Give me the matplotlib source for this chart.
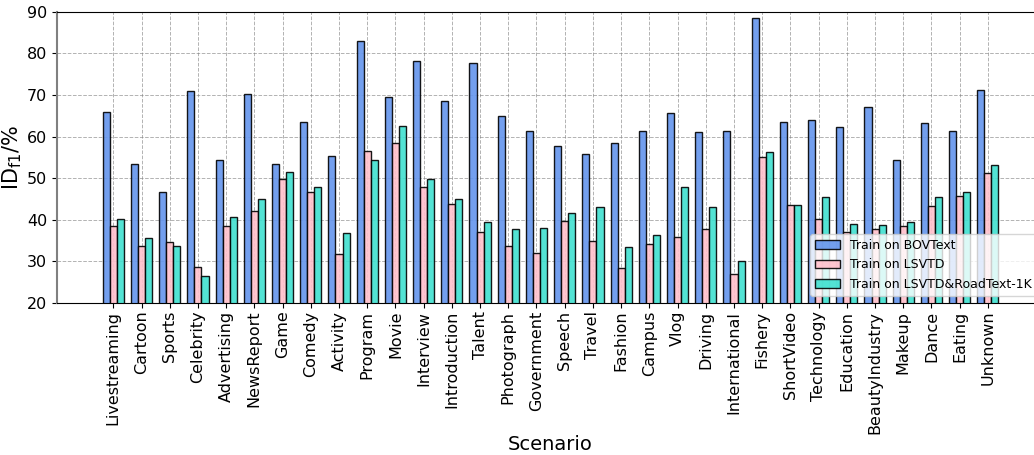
import numpy as np
import matplotlib
matplotlib.use("Agg")
import matplotlib.pyplot as plt

scenarios = ["Livestreaming", "Cartoon", "Sports", "Celebrity", "Advertising",
             "NewsReport", "Game", "Comedy", "Activity", "Program", "Movie",
             "Interview", "Introduction", "Talent", "Photograph", "Government",
             "Speech", "Travel", "Fashion", "Campus", "Vlog", "Driving",
             "International", "Fishery", "ShortVideo", "Technology", "Education",
             "BeautyIndustry", "Makeup", "Dance", "Eating", "Unknown"]

bovtext = [66.0, 53.4, 46.7, 71.0, 54.3, 70.3, 53.4, 63.4, 55.4, 83.1, 69.6,
           78.2, 68.5, 77.8, 65.0, 61.3, 57.8, 55.8, 58.4, 61.4, 65.6, 61.0,
           61.4, 88.5, 63.4, 64.1, 62.3, 67.2, 54.3, 63.2, 61.3, 71.3]
lsvtd = [38.4, 33.8, 34.6, 28.6, 38.4, 42.2, 49.7, 46.8, 31.9, 56.5, 58.5,
         47.8, 43.9, 37.0, 33.8, 32.0, 39.7, 35.0, 28.5, 34.3, 35.8, 37.9,
         27.0, 55.0, 43.6, 40.3, 37.1, 37.8, 38.4, 43.4, 45.8, 51.3]
lsvtd_road = [40.3, 35.7, 33.7, 26.5, 40.6, 45.1, 51.5, 47.8, 36.9, 54.5, 62.5,
              49.8, 45.0, 39.4, 37.8, 38.0, 41.6, 43.0, 33.5, 36.3, 47.8, 43.0,
              30.1, 56.2, 43.6, 45.4, 39.1, 38.8, 39.4, 45.4, 46.7, 53.3]

x = np.arange(len(scenarios))
w = 0.25

fig = plt.figure(figsize=(10.34, 4.55), dpi=100)
ax = fig.add_axes([0.055, 0.334, 0.955, 0.64])

ax.grid(True, linestyle="--", color="gray", alpha=0.6, linewidth=0.7)
ax.set_axisbelow(True)

ax.bar(x - w, bovtext, w, color="cornflowerblue", edgecolor="black",
       linewidth=1, alpha=0.9, label="Train on BOVText")
ax.bar(x, lsvtd, w, color="pink", edgecolor="black",
       linewidth=1, alpha=0.9, label="Train on LSVTD")
ax.bar(x + w, lsvtd_road, w, color="turquoise", edgecolor="black",
       linewidth=1, alpha=0.9, label="Train on LSVTD&RoadText-1K")

ax.set_ylim(20, 90)
ax.set_xlim(-2, 33)
ax.set_xticks(x)
ax.set_xticklabels(scenarios, rotation=90, fontsize=11.5)
ax.tick_params(axis="x", pad=2)
ax.tick_params(axis="y", labelsize=11.5)
ax.spines["left"].set_color("gray")
ax.spines["left"].set_linewidth(1.5)
ax.set_ylabel(r"ID$_{\mathrm{f1}}$/%", fontsize=15, labelpad=2)
ax.set_xlabel("Scenario", fontsize=14, labelpad=1)

ax.legend(loc="lower right", fontsize=9, borderaxespad=0.6)

fig.savefig("out.png", dpi=100)
